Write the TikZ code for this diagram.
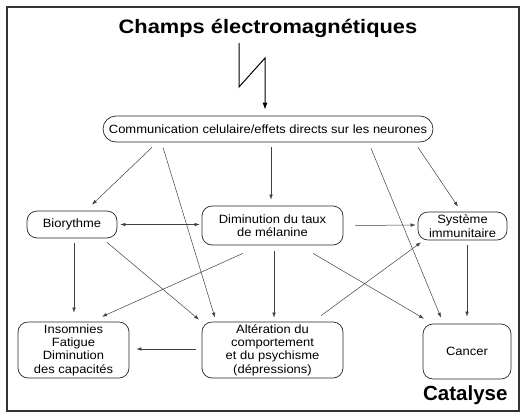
\documentclass[tikz,border=0pt]{standalone}
\usepackage{fontspec}
\setmainfont{Liberation Sans}
\newfontfamily\widefont[FakeStretch=1.08]{Liberation Sans}
\newfontfamily\titlefont[FakeStretch=1.12]{Liberation Sans}
\usetikzlibrary{arrows.meta,calc}
\begin{document}
\begin{tikzpicture}[x=1pt,y=-1pt,
  box/.style={draw=black!85,line width=0.7pt,rounded corners=10pt,align=center,
    font=\widefont\fontsize{12}{13.4}\selectfont,inner sep=1pt},
  arr/.style={draw=black!75,line width=0.5pt,-{Latex[length=5pt,width=3.5pt]}},
  darr/.style={draw=black!75,line width=0.5pt,{Latex[length=5pt,width=3.5pt]}-{Latex[length=5pt,width=3.5pt]}}]
\useasboundingbox (0,0) rectangle (526,415);
\draw[black!80,line width=1.2pt] (7,7) rectangle (519,411);
\node[font=\titlefont\fontsize{19.5}{24}\selectfont\bfseries] (title) at (268,28) {Champs électromagnétiques};
\node[box,rounded corners=13pt,minimum width=330pt,minimum height=26pt] (comm) at (268,129) {Communication celulaire/effets directs sur les neurones};
\node[box,minimum width=90pt,minimum height=27pt] (bio) at (72,224.5) {Biorythme};
\node[box,minimum width=141pt,minimum height=39pt] (dim) at (272.5,225.5) {Diminution du taux\\de mélanine};
\node[box,minimum width=89pt,minimum height=28pt] (sys) at (462.5,226) {Système\\immunitaire};
\node[box,minimum width=111pt,minimum height=56pt] (ins) at (73.5,350) {Insomnies\\Fatigue\\Diminution\\des capacités};
\node[box,minimum width=141pt,minimum height=56pt] (alt) at (272.5,350) {Altération du\\comportement\\et du psychisme\\(dépressions)};
\node[box,minimum width=88pt,minimum height=55pt] (can) at (467,351.5) {Cancer};
\node[font=\fontsize{20.5}{24}\selectfont\bfseries,anchor=base east] (cat) at (511,400) {Catalyse};
% lightning
\coordinate (l1) at (239,43);
\coordinate (l2) at (239,87);
\coordinate (l3) at (265,58);
\draw[draw=black,line width=1pt,-{Latex[length=7pt,width=5pt]}] (l1) -- (l2) -- (l3) -- ($(comm.north)+(-3,-6)$);
% connectors
\draw[arr] ($(comm.south)+(-116,5)$) -- ($(bio.north)+(20,-6)$);
\draw[arr] ($(comm.south)+(-105,5)$) -- ($(alt.north)+(-57.5,-4)$);
\draw[arr] ($(comm.south)+(3,5)$) -- ($(dim.north)+(-1.5,-6)$);
\draw[arr] ($(comm.south)+(103,6)$) -- ($(can.north)+(-26,-6)$);
\draw[arr] ($(comm.south)+(150,5)$) -- ($(sys.north)+(-4.5,-5)$);
\draw[darr] ($(bio.east)+(3,0)$) -- ($(dim.west)+(-2,-1)$);
\draw[arr] ($(dim.east)+(12,0)$) -- ($(sys.west)+(-2,-1)$);
\draw[arr] ($(bio.south)+(2,5)$) -- ($(ins.north)+(0.5,-9)$);
\draw[arr] ($(bio.south)+(35,4)$) -- ($(alt.north)+(-73.5,-2)$);
\draw[arr] ($(dim.south)+(-29.5,8)$) -- ($(ins.north)+(28.5,-5)$);
\draw[arr] ($(dim.south)+(1.5,6)$) -- ($(alt.north)+(1.5,-4)$);
\draw[arr] ($(dim.south)+(40.5,8)$) -- ($(can.north)+(-43,-5)$);
\draw[arr] ($(alt.north)+(48.5,-6)$) -- ($(sys.south)+(-41.5,2)$);
\draw[arr] ($(sys.south)+(4.5,5)$) -- ($(can.north)+(0,-7)$);
\draw[arr] ($(alt.west)+(-6,-1)$) -- ($(ins.east)+(7,-1)$);
\end{tikzpicture}
\end{document}
